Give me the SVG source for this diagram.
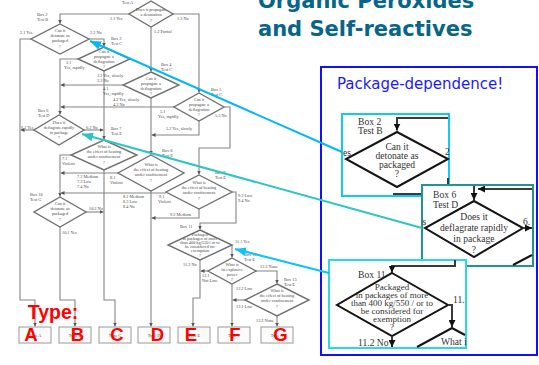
<svg xmlns="http://www.w3.org/2000/svg" width="539" height="365" viewBox="0 0 539 365">
<defs>
<style>
.d{fill:none;stroke:#707070;stroke-width:1.4}
.c{fill:none;stroke:#858585;stroke-width:1.1;marker-end:url(#ga)}
.t{font-family:"Liberation Serif","Times New Roman",serif;font-size:4.3px;fill:#4a4a4a}
.m{text-anchor:middle}
.bx{fill:#fbfbfb;stroke:#9a9a9a;stroke-width:1}
.red{font-family:"Liberation Sans",Arial,sans-serif;font-weight:bold;fill:#ff0000}
.it{font-family:"Liberation Serif","Times New Roman",serif;font-size:9.6px;fill:#333}
.kd{fill:none;stroke:#151515;stroke-width:2}
.kl{fill:none;stroke:#3a3a3a;stroke-width:2}
.ka{marker-end:url(#ka)}
</style>
<marker id="ga" viewBox="0 0 6 6" refX="6" refY="3" markerWidth="4" markerHeight="4" markerUnits="userSpaceOnUse" orient="auto"><path d="M0,0L6,3L0,6z" fill="#555"/></marker>
<marker id="ka" viewBox="0 0 6 6" refX="6" refY="3" markerWidth="7" markerHeight="7" markerUnits="userSpaceOnUse" orient="auto"><path d="M0,0L6,3L0,6z" fill="#111"/></marker>
<marker id="ca" viewBox="0 0 10 8" refX="10" refY="4" markerWidth="11" markerHeight="9" markerUnits="userSpaceOnUse" orient="auto"><path d="M0,0L10,4L0,8z" fill="#00b8f5"/></marker>
<marker id="ta" viewBox="0 0 10 8" refX="10" refY="4" markerWidth="11" markerHeight="9" markerUnits="userSpaceOnUse" orient="auto"><path d="M0,0L10,4L0,8z" fill="#2ec5c5"/></marker>
<marker id="c3" viewBox="0 0 10 8" refX="10" refY="4" markerWidth="11" markerHeight="9" markerUnits="userSpaceOnUse" orient="auto"><path d="M0,0L10,4L0,8z" fill="#10c4f2"/></marker>
</defs>
<rect width="539" height="365" fill="#fff"/>

<g id="title" font-family="'DejaVu Sans',Verdana,sans-serif" font-weight="bold" font-size="21" fill="#08658a">
<text x="258" y="8">Organic Peroxides</text>
<text x="258" y="36">and Self-reactives</text>
</g>

<g id="connectors">
<path class="c" d="M129,14H60V23.5"/>
<path class="c" d="M151,27V71.5"/>
<path class="c" d="M173,14H199V92.5"/>
<path class="c" d="M31,39H20V300H35V326.5"/>
<path class="c" d="M89,39H104V46.5"/>
<path class="c" d="M78,59H60V114.5"/>
<path class="c" d="M104,71V139.5"/>
<path class="c" d="M123,85H60.5"/>
<path class="c" d="M151,98V154.5"/>
<path class="c" d="M174,107H60.5"/>
<path class="c" d="M199,121V135H151.5"/>
<path class="c" d="M224,107H230V148H199V174.5"/>
<path class="c" d="M34,130H20.5"/>
<path class="c" d="M84,130H103.5"/>
<path class="c" d="M71,155H60V196.5"/>
<path class="c" d="M104,170V300H115V326.5"/>
<path class="c" d="M118,173H60.5"/>
<path class="c" d="M151,191V326.5"/>
<path class="c" d="M166,193H60.5"/>
<path class="c" d="M199,209V218H151.5"/>
<path class="c" d="M232,192H236V223H200V229.5"/>
<path class="c" d="M60,227V300H75V326.5"/>
<path class="c" d="M86,212H103.5"/>
<path class="c" d="M232,245V257.5"/>
<path class="c" d="M200,260V298H193V326.5"/>
<path class="c" d="M208,271H200.5"/>
<path class="c" d="M232,284V326.5"/>
<path class="c" d="M256,271H277V283.5"/>
<path class="c" d="M245,300H232.5"/>
<path class="c" d="M277,316V326.5"/>
</g>

<g id="edge-labels" class="t">
<text x="122" y="4">Test A</text>
<text x="110" y="20">1.1 Yes</text>
<text x="177" y="20">1.3 No</text>
<text x="154" y="33">1.2 Partial</text>
<text x="20" y="34">2.1 Yes</text>
<text x="90" y="34">2.2 No</text>
<text x="66" y="64">3.1</text>
<text x="64" y="69">Yes, rapidly</text>
<text x="97" y="77">3.2 Yes, slowly</text>
<text x="97" y="82">3.3 No</text>
<text x="103" y="90">4.1</text>
<text x="103" y="95">Yes, rapidly</text>
<text x="113" y="101">4.2  Yes, slowly</text>
<text x="113" y="106">4.3  No</text>
<text x="160" y="113">5.1</text>
<text x="158" y="118">Yes, rapidly</text>
<text x="215" y="117">5.3 No</text>
<text x="166" y="130">5.2 Yes, slowly</text>
<text x="21" y="129">6.1 Yes</text>
<text x="86" y="129">6.2 No</text>
<text x="62" y="160">7.1</text>
<text x="62" y="165">Violent</text>
<text x="77" y="178">7.2 Medium</text>
<text x="77" y="183">7.3 Low</text>
<text x="77" y="188">7.4 No</text>
<text x="110" y="179">8.1</text>
<text x="110" y="184">Violent</text>
<text x="123" y="198">8.2 Medium</text>
<text x="123" y="203">8.3 Low</text>
<text x="123" y="208">8.4 No</text>
<text x="159" y="198">9.1</text>
<text x="158" y="203">Violent</text>
<text x="170" y="216">9.2 Medium</text>
<text x="238" y="197">9.3 Low</text>
<text x="238" y="202">9.4 No</text>
<text x="89" y="210">10.2 No</text>
<text x="62" y="234">10.1 Yes</text>
<text x="235" y="243">11.1 Yes</text>
<text x="183" y="266">11.2 No</text>
<text x="202" y="277">12.1</text>
<text x="202" y="282">Not Low</text>
<text x="260" y="268">12.3 None</text>
<text x="236" y="290">12.2 Low</text>
<text x="236" y="308">13.1 Low</text>
<text x="256" y="322">13.2 None</text>
</g>

<g id="box1" class="t"><path class="d" d="M151,1L173,14L151,27L129,14Z"/><text class="m" x="151" y="11">Does it propagate</text><text class="m" x="151" y="16">a detonation</text><text class="m" x="151" y="22">?</text></g>
<g id="box2" class="t"><text x="37" y="16">Box 2</text><text x="37" y="21">Test B</text><path class="d" d="M60,24L89,39L60,54L31,39Z"/><text class="m" x="60" y="32">Can it</text><text class="m" x="60" y="37">detonate as</text><text class="m" x="60" y="42">packaged</text><text class="m" x="60" y="48">?</text></g>
<g id="box3" class="t"><text x="111" y="40">Box 3</text><text x="111" y="45">Test C</text><path class="d" d="M104,47L130,59L104,71L78,59Z"/><text class="m" x="104" y="53">Can it</text><text class="m" x="104" y="58">propagate a</text><text class="m" x="104" y="63">deflagration</text><text class="m" x="104" y="68">?</text></g>
<g id="box4" class="t"><text x="161" y="66">Box 4</text><text x="161" y="71">Test C</text><path class="d" d="M151,72L179,85L151,98L123,85Z"/><text class="m" x="151" y="80">Can it</text><text class="m" x="151" y="85">propagate a</text><text class="m" x="151" y="90">deflagration</text><text class="m" x="151" y="95">?</text></g>
<g id="box5" class="t"><text x="211" y="91">Box 5</text><text x="211" y="96">Test C</text><path class="d" d="M199,93L224,107L199,121L174,107Z"/><text class="m" x="199" y="101">Can it</text><text class="m" x="199" y="106">propagate a</text><text class="m" x="199" y="111">deflagration</text><text class="m" x="199" y="116">?</text></g>
<g id="box6" class="t"><text x="38" y="112">Box 6</text><text x="38" y="117">Test D</text><path class="d" d="M59,115L84,130L59,145L34,130Z"/><text class="m" x="59" y="124">Does it</text><text class="m" x="59" y="129">deflagrate rapidly</text><text class="m" x="59" y="134">in package</text><text class="m" x="59" y="139">?</text></g>
<g id="box7" class="t"><text x="111" y="130">Box 7</text><text x="111" y="135">Test E</text><path class="d" d="M104,140L137,155L104,170L71,155Z"/><text class="m" x="104" y="148">What is</text><text class="m" x="104" y="153">the effect of heating</text><text class="m" x="104" y="158">under confinement</text><text class="m" x="104" y="164">?</text></g>
<g id="box8" class="t"><text x="162" y="152">Box 8</text><text x="162" y="157">Test E</text><path class="d" d="M151,155L184,173L151,191L118,173Z"/><text class="m" x="151" y="166">What is</text><text class="m" x="151" y="171">the effect of heating</text><text class="m" x="151" y="176">under confinement</text><text class="m" x="151" y="182">?</text></g>
<g id="box9" class="t"><text x="215" y="174">Box 9</text><text x="215" y="179">Test E</text><path class="d" d="M199,175L232,192L199,209L166,192Z"/><text class="m" x="199" y="184">What is</text><text class="m" x="199" y="189">the effect of heating</text><text class="m" x="199" y="194">under confinement</text><text class="m" x="199" y="200">?</text></g>
<g id="box10" class="t"><text x="30" y="196">Box 10</text><text x="30" y="201">Test G</text><path class="d" d="M60,197L86,212L60,227L34,212Z"/><text class="m" x="60" y="205">Can it</text><text class="m" x="60" y="210">detonate as</text><text class="m" x="60" y="215">packaged</text><text class="m" x="60" y="221">?</text></g>
<g id="box11" class="t"><text x="180" y="228">Box 11</text><path class="d" d="M200,230L232,245L200,260L168,245Z"/><text class="m" x="200" y="236">Packaged</text><text class="m" x="200" y="240">in packages of more</text><text class="m" x="200" y="244">than 400 kg/550 l or to</text><text class="m" x="200" y="248">be considered for</text><text class="m" x="200" y="252">exemption</text><text class="m" x="200" y="257">?</text></g>
<g id="box12" class="t"><text x="244" y="256">Box 12</text><text x="244" y="261">Test E</text><path class="d" d="M232,258L256,271L232,284L208,271Z"/><text class="m" x="232" y="266">What is</text><text class="m" x="232" y="271">its explosive</text><text class="m" x="232" y="276">power</text><text class="m" x="232" y="281">?</text></g>
<g id="box13" class="t"><text x="284" y="281">Box 13</text><text x="284" y="286">Test E</text><path class="d" d="M277,284L309,300L277,316L245,300Z"/><text class="m" x="277" y="292">What is</text><text class="m" x="277" y="297">the effect of heating</text><text class="m" x="277" y="302">under confinement</text><text class="m" x="277" y="308">?</text></g>

<g id="typeA"><rect class="bx" x="19" y="327" width="32" height="16"/><text class="t m" x="35" y="337">Type A</text></g>
<g id="typeB"><rect class="bx" x="59" y="327" width="32" height="16"/><text class="t m" x="75" y="337">Type B</text></g>
<g id="typeC"><rect class="bx" x="99" y="327" width="32" height="16"/><text class="t m" x="115" y="337">Type C</text></g>
<g id="typeD"><rect class="bx" x="138" y="327" width="32" height="16"/><text class="t m" x="154" y="337">Type D</text></g>
<g id="typeE"><rect class="bx" x="178" y="327" width="32" height="16"/><text class="t m" x="194" y="337">Type E</text></g>
<g id="typeF"><rect class="bx" x="218" y="327" width="32" height="16"/><text class="t m" x="234" y="337">Type F</text></g>
<g id="typeG"><rect class="bx" x="261" y="327" width="32" height="16"/><text class="t m" x="277" y="337">Type G</text></g>

<g id="type-labels" class="red" font-size="18.5" text-anchor="middle">
<text x="53" y="319" font-size="19.5">Type:</text>
<text x="31" y="341">A</text>
<text x="77.5" y="341">B</text>
<text x="117" y="341">C</text>
<text x="157.5" y="341">D</text>
<text x="191" y="341">E</text>
<text x="235" y="341">F</text>
<text x="280.5" y="341">G</text>
</g>

<g id="panel">
<rect x="321" y="67" width="216" height="288" fill="#fff" stroke="#1010ff" stroke-width="2"/>
<text x="337" y="89" font-family="'DejaVu Sans',Verdana,sans-serif" font-size="15" fill="#1a1aff">Package-dependence!</text>
</g>

<g id="inset-box2">
<rect x="342" y="114" width="107" height="82" fill="#fff" stroke="#12c8f5" stroke-width="2"/>
<path class="kl ka" d="M448,118H397V130.5"/>
<text class="it" x="358" y="125">Box 2</text>
<text class="it" x="358" y="134">Test B</text>
<path class="kd" d="M397,132L448,159L397,187L346,159Z"/>
<text class="it" text-anchor="middle" x="397" y="150">Can it</text>
<text class="it" text-anchor="middle" x="397" y="159">detonate as</text>
<text class="it" text-anchor="middle" x="397" y="168">packaged</text>
<text class="it" text-anchor="middle" x="397" y="177">?</text>
<text class="it" x="343" y="156">es</text>
<text class="it" x="445" y="155">2</text>
<path class="kl" d="M448,178V186"/>
<path class="kl" d="M393,194H421"/>
</g>

<g id="inset-box6">
<rect x="422" y="185" width="111" height="81" fill="#fff" stroke="#229494" stroke-width="2"/>
<text class="it" x="433" y="198">Box 6</text>
<text class="it" x="433" y="208">Test D</text>
<path class="kl ka" d="M474,186V200"/>
<path class="kl ka" d="M532,189H478"/>
<path class="kd" d="M474,201L523,228L474,257L425,228Z"/>
<text class="it" text-anchor="middle" x="474" y="220">Does it</text>
<text class="it" text-anchor="middle" x="474" y="231">deflagrate rapidly</text>
<text class="it" text-anchor="middle" x="474" y="242">in package</text>
<text class="it" text-anchor="middle" x="474" y="253">?</text>
<text class="it" x="422.5" y="225">s</text>
<text class="it" x="523" y="225">6.</text>
<path class="kl ka" d="M523,228H532"/>
<path class="kd" d="M513,265L532,255"/>
</g>

<g id="inset-box11">
<rect x="329" y="260" width="137" height="88" fill="#fff" stroke="#2ad8ee" stroke-width="2"/>
<path class="kl ka" d="M455,260V266H392V272.5"/>
<text class="it" x="358" y="278" fill="#555">Box 11</text>
<path class="kd" d="M392,273L448,305L392,336L337,305Z"/>
<g class="it" text-anchor="middle" fill="#444" font-size="9px">
<text x="392" y="290" font-size="9px">Packaged</text>
<text x="392" y="298" font-size="9px">in packages of more</text>
<text x="392" y="306" font-size="9px">than 400 kg/550 / or to</text>
<text x="392" y="314" font-size="9px">be considered for</text>
<text x="392" y="322" font-size="9px">exemption</text>
<text x="392" y="330" font-size="9px">?</text>
</g>
<text class="it" x="453" y="303" fill="#555" font-size="9px">11.</text>
<path class="kl ka" d="M448,305H452V327"/>
<path class="kd" d="M417,347L452,328L465,335"/>
<text class="it" x="441" y="345" fill="#555" font-size="9px">What i</text>
<text class="it" x="358" y="346" fill="#555" font-size="9px">11.2 No</text>
<path class="kl ka" d="M392,336V347"/>
</g>

<g id="callouts" fill="none" stroke-width="2">
<path d="M342,152L90,41" stroke="#00b8f5" marker-end="url(#ca)"/>
<path d="M422,228L82,134" stroke="#2ec5c5" marker-end="url(#ta)"/>
<path d="M329,273L235,249" stroke="#10c4f2" marker-end="url(#c3)"/>
</g>
</svg>
